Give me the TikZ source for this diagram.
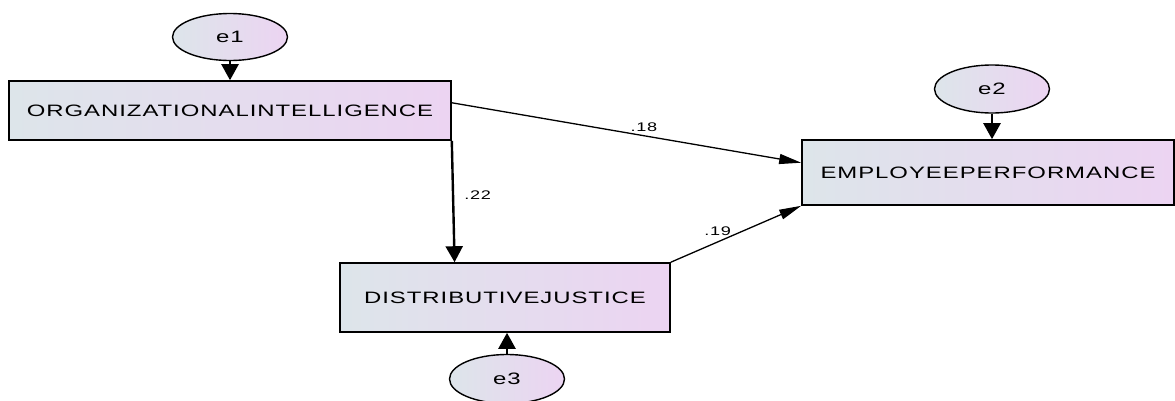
\documentclass[tikz,border=0pt]{standalone}
\usepackage{fontspec}
\usepackage{tikz}
\usetikzlibrary{positioning,arrows.meta,shapes.geometric}
\newfontfamily\amosFont[LetterSpace=4]{Liberation Sans}
\definecolor{leftTint}{RGB}{221,229,234}
\definecolor{rightTint}{RGB}{236,212,242}
\tikzstyle{diagram} = [x = 1pt, y = -1pt]
\tikzstyle{observedBox} = [draw=black, line width=1.6pt, left color=leftTint, right color=rightTint, inner sep=0pt, font=\fontsize{16.5}{19}\amosFont]
\tikzstyle{errorOval} = [ellipse, draw=black, line width=1.4pt, left color=leftTint, right color=rightTint, minimum width=115pt, minimum height=47pt, inner sep=0pt, font=\fontsize{16.5}{19}\amosFont]
\tikzstyle{pathArrow} = [-{Triangle[length=22pt, width=10pt]}, line width=1.3pt]
\tikzstyle{heavyArrow} = [-{Triangle[length=16pt, width=17pt]}, line width=2.4pt]
\tikzstyle{weightText} = [font=\fontsize{12.5}{15}\amosFont, inner sep=2pt]
\newcommand{\wideText}[1]{\scalebox{1.45}[1]{#1}}

\begin{document}
\begin{tikzpicture}[diagram]
  \useasboundingbox (0,0) rectangle (1175,400);
  % observed variables
  \node [observedBox, minimum width=442pt, minimum height=59pt] (orgIntel) at (230,110.5) {\wideText{ORGANIZATIONALINTELLIGENCE}};
  \node [observedBox, minimum width=330pt, minimum height=69pt] (distJustice) at (505,297.5) {\wideText{DISTRIBUTIVEJUSTICE}};
  \node [observedBox, minimum width=372pt, minimum height=65pt] (empPerf) at (988,172.5) {\wideText{EMPLOYEEPERFORMANCE}};
  % error terms
  \node [errorOval] (errOne) at (230,37) {\wideText{e1}};
  \node [errorOval, minimum height=48pt] (errTwo) at (992,89) {\wideText{e2}};
  \node [errorOval, minimum height=49pt] (errThree) at (507,379) {\wideText{e3}};
  \draw [heavyArrow] (errOne) -- (orgIntel);
  \draw [heavyArrow] (errTwo.south) -- (errTwo.south |- empPerf.north);
  \draw [heavyArrow] (errThree.north) -- (errThree.north |- distJustice.south);
  % paths
  \draw [heavyArrow] (orgIntel.south east) -- (distJustice.145) node [weightText, pos=0.45, right=8pt] {\wideText{.22}};
  \draw [pathArrow] (orgIntel.2) -- (empPerf.177.5) node [weightText, pos=0.55, above=1pt] {\wideText{.18}};
  \draw [pathArrow] (distJustice.north east) -- (empPerf.south west) node [weightText, pos=0.36, above=4pt] {\wideText{.19}};
\end{tikzpicture}
\end{document}
